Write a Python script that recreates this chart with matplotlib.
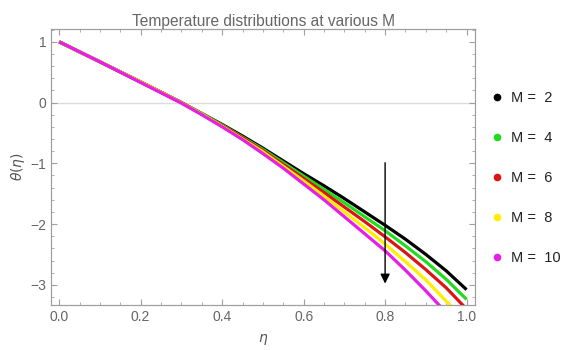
import matplotlib
matplotlib.use("Agg")
import matplotlib.pyplot as plt
from matplotlib.lines import Line2D
from matplotlib.ticker import MultipleLocator, FormatStrFormatter

# --- data ---
eta = [0.0, 0.1, 0.2, 0.3, 0.35, 0.4, 0.45, 0.5, 0.55, 0.6, 0.65, 0.7, 0.75, 0.8, 0.85, 0.9, 0.95, 1.0]
theta_m2 = [1.0, 0.67, 0.34, 0.0, -0.18, -0.36, -0.55, -0.75, -0.96, -1.17, -1.37, -1.58, -1.80, -2.02, -2.25, -2.50, -2.77, -3.08]
theta_m4 = [1.0, 0.67, 0.34, 0.0, -0.18, -0.37, -0.57, -0.77, -0.99, -1.21, -1.43, -1.65, -1.88, -2.11, -2.36, -2.62, -2.91, -3.24]
theta_m6 = [1.0, 0.67, 0.34, 0.0, -0.19, -0.38, -0.58, -0.79, -1.02, -1.25, -1.48, -1.72, -1.96, -2.21, -2.47, -2.75, -3.05, -3.40]
theta_m8 = [1.0, 0.67, 0.34, -0.005, -0.19, -0.39, -0.60, -0.81, -1.05, -1.29, -1.54, -1.80, -2.06, -2.33, -2.62, -2.92, -3.27, -3.62]
theta_m10 = [1.0, 0.67, 0.33, -0.01, -0.20, -0.40, -0.61, -0.84, -1.08, -1.34, -1.60, -1.88, -2.16, -2.44, -2.76, -3.10, -3.46, -3.82]

m_values = [2, 4, 6, 8, 10]
series = [theta_m2, theta_m4, theta_m6, theta_m8, theta_m10]
colors = ['#000000', '#1fdc1f', '#dc1414', '#ffee00', '#e61ee6']

arrow_x = 0.8
arrow_from = -0.99
arrow_to = -2.98

plt.rcParams['font.family'] = ['Liberation Sans', 'DejaVu Sans']

fig = plt.figure(figsize=(5.67, 3.5), dpi=100)
ax = fig.add_axes([0.090, 0.129, 0.748, 0.788])

ax.axhline(0, color='#dcdcdc', linewidth=1.0, zorder=1)

for vals, c in zip(series, colors):
    ax.plot(eta, vals, color=c, linewidth=2.3, solid_capstyle='butt', zorder=3)

ax.annotate('', xy=(arrow_x, arrow_to), xytext=(arrow_x, arrow_from),
            arrowprops=dict(arrowstyle='-|>', color='black', lw=1.0,
                            mutation_scale=14, shrinkA=0, shrinkB=0),
            zorder=5)

ax.set_xlim(-0.02, 1.021)
ax.set_ylim(-3.33, 1.21)

ax.xaxis.set_major_locator(MultipleLocator(0.2))
ax.xaxis.set_minor_locator(MultipleLocator(0.05))
ax.yaxis.set_major_locator(MultipleLocator(1))
ax.yaxis.set_minor_locator(MultipleLocator(0.2))
ax.xaxis.set_major_formatter(FormatStrFormatter('%.1f'))

frame_c = '#a0a0a0'
for sp in ax.spines.values():
    sp.set_color(frame_c)
    sp.set_linewidth(0.9)
ax.tick_params(which='both', direction='in', top=True, right=True,
               color=frame_c, labelcolor='#666666', labelsize=10)
ax.tick_params(which='major', length=4.5, width=0.8)
ax.tick_params(which='minor', length=2.5, width=0.6)

ax.set_title('Temperature distributions at various M', fontsize=11.2,
             color='#666666', pad=2)
ax.set_xlabel(r'$\eta$', fontsize=10, color='#555555', labelpad=6)
ax.set_ylabel(r'$\theta(\eta)$', fontsize=10, color='#555555', labelpad=2)

handles = [Line2D([], [], linestyle='none', marker='o', markersize=4.5,
                  color=c) for c in colors]
labels = [f'M =  {m}' for m in m_values]
fig.legend(handles, labels, loc='upper left', bbox_to_anchor=(0.84, 0.778),
           frameon=False, fontsize=10.5, labelspacing=1.78, handletextpad=0.5,
           handlelength=1.0, labelcolor='#222222')

fig.savefig('out.png', dpi=100)
